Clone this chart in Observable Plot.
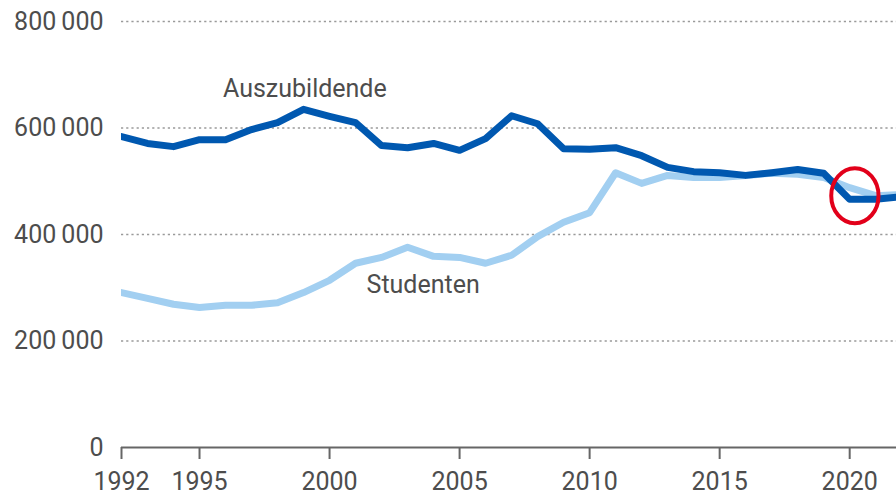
<!DOCTYPE html>
<html>
<head>
<meta charset="utf-8">
<script src="https://cdn.jsdelivr.net/npm/d3@7"></script>
<script src="https://cdn.jsdelivr.net/npm/@observablehq/plot@0.6"></script>
<style>
  html, body { margin: 0; padding: 0; background: #fff; overflow: hidden; }
  #chart { width: 896px; height: 494px; }
</style>
</head>
<body>
<div id="chart"></div>
<script>
const years = [1992,1993,1994,1995,1996,1997,1998,1999,2000,2001,2002,2003,2004,2005,2006,2007,2008,2009,2010,2011,2012,2013,2014,2015,2016,2017,2018,2019,2020,2021,2022];
const auszubildende = [584000,571000,565000,578000,578000,597000,610000,635000,622000,610000,567000,563000,571000,558000,580000,623000,608000,561000,560000,563000,548000,526000,518000,516000,511000,516000,522000,515000,466000,466000,471000];
const studenten = [291000,280000,269000,263000,267000,267000,272000,291000,314000,346000,357000,376000,359000,357000,346000,361000,396000,423000,441000,516000,496000,511000,507000,507000,511000,515000,513000,507000,488000,473000,475000];
const xTicks = [1992,1995,2000,2005,2010,2015,2020];
const yTicks = [0,200000,400000,600000,800000];
const gridValues = [200000,400000,600000,800000];
const seriesLabels = [
  {name: "Auszubildende", year: 1999.05, value: 674000},
  {name: "Studenten", year: 2003.6, value: 306000}
];
const markYear = [2020.2];
const markValue = [473000];

const azubiData = years.map((y, i) => ({year: y, value: auszubildende[i]}));
const studData = years.map((y, i) => ({year: y, value: studenten[i]}));
const markData = markYear.map((y, i) => ({year: y, value: markValue[i]}));

const fmt = v => v === 0 ? "0" : d3.format(",")(v).replace(/,/g, "\u2009");

const ellipse = {
  draw(ctx, size) {
    const r = Math.sqrt(size / Math.PI);
    const rx = r * 0.86, ry = r, k = 0.5523;
    ctx.moveTo(rx, 0);
    ctx.bezierCurveTo(rx, ry * k, rx * k, ry, 0, ry);
    ctx.bezierCurveTo(-rx * k, ry, -rx, ry * k, -rx, 0);
    ctx.bezierCurveTo(-rx, -ry * k, -rx * k, -ry, 0, -ry);
    ctx.bezierCurveTo(rx * k, -ry, rx, -ry * k, rx, 0);
    ctx.closePath();
  }
};

const chart = Plot.plot({
  width: 896,
  height: 494,
  marginLeft: 121,
  marginRight: 0,
  marginTop: 21,
  marginBottom: 47,
  style: {fontFamily: "Roboto, sans-serif", fontSize: "25px", color: "#4d4d4d", background: "#fff"},
  x: {domain: [1992, 2021.8]},
  y: {domain: [0, 800000]},
  marks: [
    Plot.ruleY(gridValues, {stroke: "#9a9a9a", strokeWidth: 1.6, strokeDasharray: "2.2,3"}),
    Plot.axisY({ticks: yTicks, tickFormat: fmt, tickSize: 0, tickPadding: 18, fontSize: 25, fill: "#4d4d4d", label: null}),
    Plot.axisX({ticks: xTicks, tickFormat: d => String(d), tickSize: 12, tickPadding: 13, stroke: "#666", strokeWidth: 2, fontSize: 25, fill: "#4d4d4d", label: null}),
    Plot.ruleY([0], {stroke: "#666", strokeWidth: 2}),
    Plot.line(studData, {x: "year", y: "value", stroke: "#a2cff1", strokeWidth: 7, clip: true}),
    Plot.line(azubiData, {x: "year", y: "value", stroke: "#0058b0", strokeWidth: 7, clip: true}),
    Plot.text(seriesLabels, {x: "year", y: "value", text: "name", fontSize: 25, fill: "#4d4d4d", textAnchor: "middle", lineAnchor: "middle"}),
    Plot.dot(markData, {x: "year", y: "value", symbol: ellipse, r: 27.5, stroke: "#e2001a", strokeWidth: 4, fill: "none"})
  ]
});
document.getElementById("chart").appendChild(chart);
</script>
</body>
</html>
